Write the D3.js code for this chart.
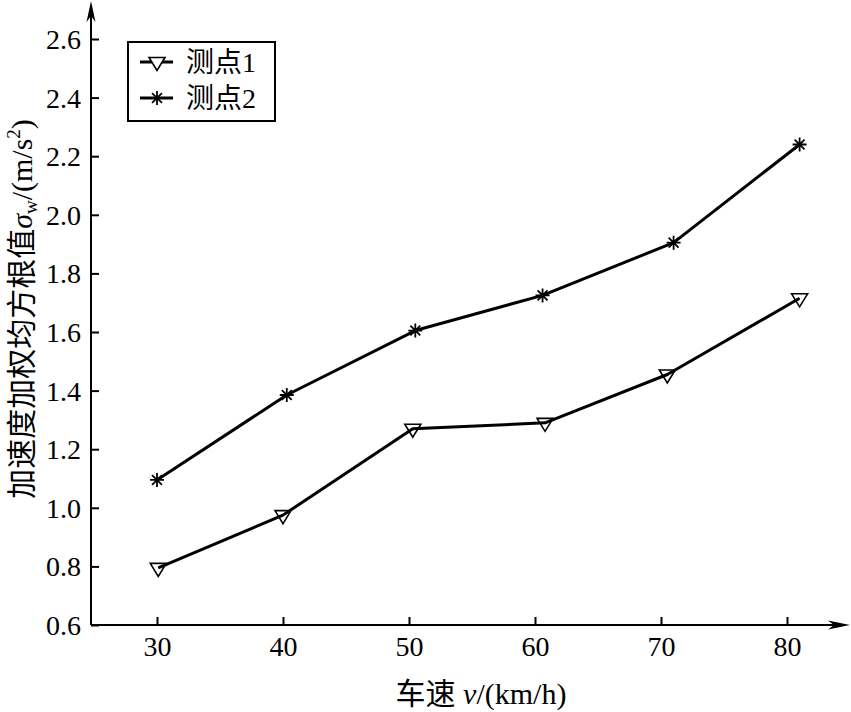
<!DOCTYPE html>
<html>
<head>
<meta charset="utf-8">
<script src="https://cdn.jsdelivr.net/npm/d3@7"></script>
<style>
  body { margin: 0; background: #fff; }
</style>
</head>
<body>
<div id="chart"></div>
<script>
var width = 851,
    height = 712;
var serif = "'Liberation Serif', 'Noto Sans CJK SC', serif";

// data
var speed1 = [30.1, 40.0, 50.3, 60.8, 70.5, 81.0],
    point1 = [0.795, 0.975, 1.27, 1.29, 1.455, 1.715];
var speed2 = [30.0, 40.3, 50.5, 60.6, 71.0, 81.0],
    point2 = [1.095, 1.385, 1.605, 1.725, 1.905, 2.24];
var xTicks = [30, 40, 50, 60, 70, 80],
    yTicks = [0.6, 0.8, 1.0, 1.2, 1.4, 1.6, 1.8, 2.0, 2.2, 2.4, 2.6];
var seriesNames = ["测点1", "测点2"];

var svg = d3.select("#chart")
    .append("svg")
    .attr("width", width)
    .attr("height", height)
    .attr("font-family", serif);

var x = d3.scaleLinear().domain([30, 80]).range([157, 787]);
var y = d3.scaleLinear().domain([0.6, 2.6]).range([625, 39]);

var x0 = 91, y0 = 625;

// axes (ticks point inward)
var yAxis = svg.append("g")
    .attr("transform", "translate(" + x0 + ",0)")
    .call(d3.axisLeft(y).tickValues(yTicks).tickSize(-8).tickPadding(10).tickFormat(d3.format(".1f")));

var xAxis = svg.append("g")
    .attr("transform", "translate(0," + y0 + ")")
    .call(d3.axisBottom(x).tickValues(xTicks).tickSize(-8).tickPadding(11).tickFormat(d3.format("d")));

[yAxis, xAxis].forEach(function(a) {
    a.attr("font-family", serif).attr("font-size", 28);
    a.select(".domain").remove();
    a.selectAll(".tick line").attr("stroke", "#000").attr("stroke-width", 2);
    a.selectAll(".tick text").attr("fill", "#000");
});
yAxis.selectAll(".tick text").attr("dy", "0.34em");

// axis lines with arrow heads
svg.append("line")
    .attr("x1", x0).attr("y1", y0)
    .attr("x2", x0).attr("y2", 6)
    .attr("stroke", "#000").attr("stroke-width", 2);
svg.append("path")
    .attr("d", "M" + x0 + ",1 L" + (x0 - 4.5) + ",22 L" + x0 + ",16 L" + (x0 + 4.5) + ",22 Z")
    .attr("fill", "#000");

svg.append("line")
    .attr("x1", x0).attr("y1", y0)
    .attr("x2", 845).attr("y2", y0)
    .attr("stroke", "#000").attr("stroke-width", 2);
svg.append("path")
    .attr("d", "M850," + y0 + " L828," + (y0 - 4.5) + " L834," + y0 + " L828," + (y0 + 4.5) + " Z")
    .attr("fill", "#000");

// markers
function triPath(cx, cy) {
    return "M" + (cx - 8) + "," + (cy - 4.5) + " L" + (cx + 8) + "," + (cy - 4.5) +
        " L" + cx + "," + (cy + 8.5) + " Z";
}
function starPath(cx, cy) {
    var r = 7, d = "";
    [0, 45, 90, 135].forEach(function(a) {
        var t = a * Math.PI / 180, dx = r * Math.cos(t), dy = r * Math.sin(t);
        d += "M" + (cx - dx) + "," + (cy - dy) + " L" + (cx + dx) + "," + (cy + dy) + " ";
    });
    return d;
}

var line = d3.line()
    .x(function(d) { return x(d[0]); })
    .y(function(d) { return y(d[1]); });

var data1 = d3.zip(speed1, point1),
    data2 = d3.zip(speed2, point2);

[data1, data2].forEach(function(data) {
    svg.append("path")
        .datum(data)
        .attr("d", line)
        .attr("fill", "none")
        .attr("stroke", "#000")
        .attr("stroke-width", 3)
        .attr("stroke-linejoin", "round");
});

svg.append("g").selectAll("path")
    .data(data1).enter()
    .append("path")
    .attr("d", function(d) { return triPath(x(d[0]), y(d[1])); })
    .attr("fill", "none")
    .attr("stroke", "#000")
    .attr("stroke-width", 1.6);

svg.append("g").selectAll("path")
    .data(data2).enter()
    .append("path")
    .attr("d", function(d) { return starPath(x(d[0]), y(d[1])); })
    .attr("stroke", "#000")
    .attr("stroke-width", 1.8);

// legend
var legend = svg.append("g");
legend.append("rect")
    .attr("x", 128).attr("y", 42)
    .attr("width", 147).attr("height", 79)
    .attr("fill", "#fff")
    .attr("stroke", "#000").attr("stroke-width", 2);

var rows = [62, 98];
rows.forEach(function(ry, i) {
    legend.append("line")
        .attr("x1", 140).attr("y1", ry)
        .attr("x2", 173).attr("y2", ry)
        .attr("stroke", "#000").attr("stroke-width", 3);
    legend.append("path")
        .attr("d", i == 0 ? triPath(157, ry) : starPath(157, ry))
        .attr("fill", i == 0 ? "#fff" : "none")
        .attr("stroke", "#000")
        .attr("stroke-width", i == 0 ? 1.6 : 1.8);
    legend.append("text")
        .attr("x", 186).attr("y", ry + 10)
        .attr("font-size", 28)
        .text(seriesNames[i]);
});

// axis titles
var xt = svg.append("text")
    .attr("x", 481).attr("y", 704)
    .attr("text-anchor", "middle")
    .attr("font-size", 30);
xt.append("tspan").text("车速 ");
xt.append("tspan").style("font-style", "italic").text("v");
xt.append("tspan").text("/(km/h)");

var yt = svg.append("text")
    .attr("transform", "translate(32,309) rotate(-90)")
    .attr("text-anchor", "middle")
    .attr("font-size", 30);
yt.append("tspan").text("加速度加权均方根值");
yt.append("tspan").style("font-style", "italic").text("σ");
yt.append("tspan").attr("dy", 5).attr("font-size", 19).text("w");
yt.append("tspan").attr("dy", -5).text("/(m/s");
yt.append("tspan").attr("dy", -12).attr("font-size", 19).text("2");
yt.append("tspan").attr("dy", 12).text(")");
</script>
</body>
</html>
